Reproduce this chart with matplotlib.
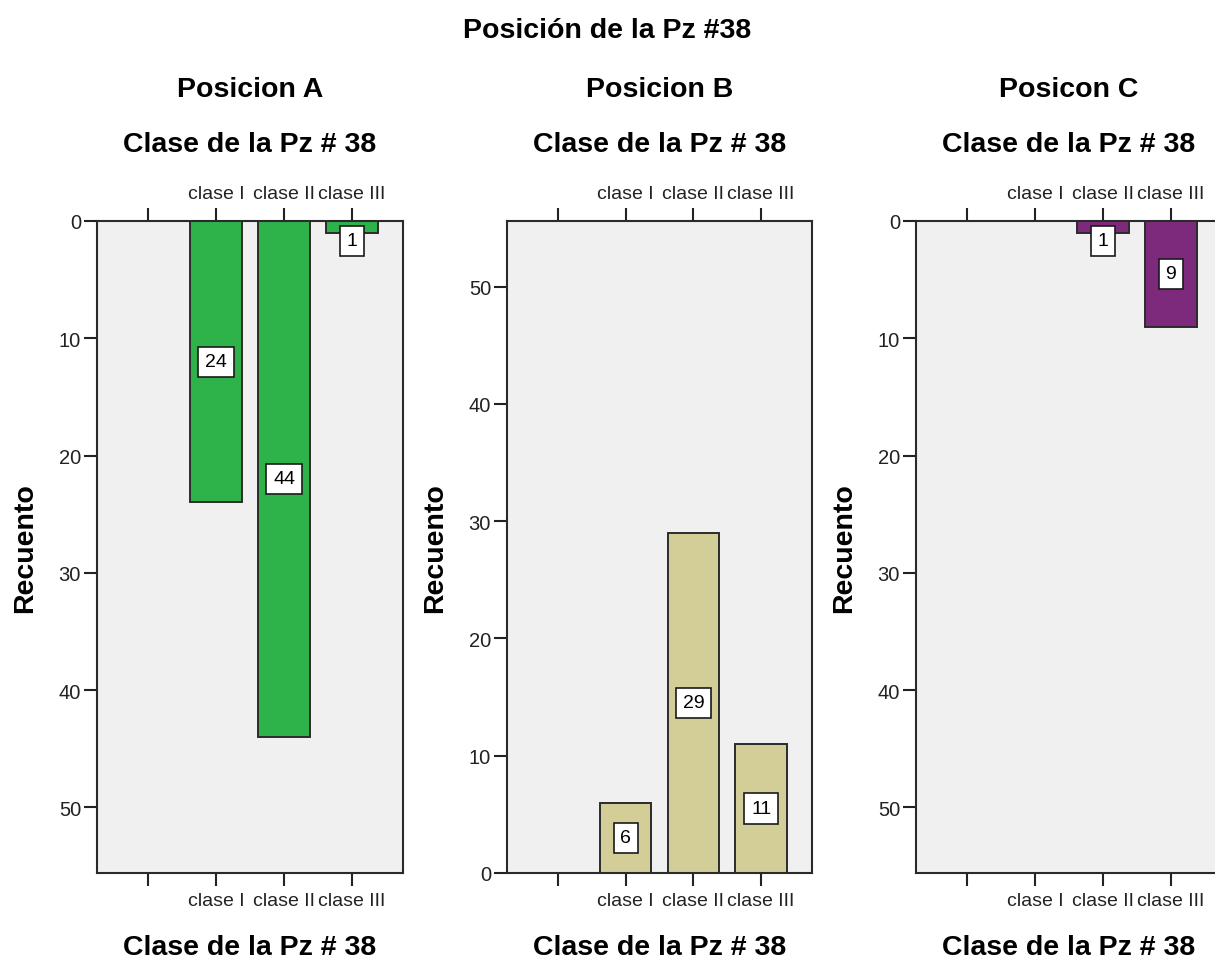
import matplotlib
matplotlib.use("Agg")
import matplotlib.pyplot as plt

plt.rcParams['font.family'] = ['Liberation Sans', 'DejaVu Sans']

categories = ['', 'clase I', 'clase II', 'clase III']
panel_titles = ['Posicion A', 'Posicion B', 'Posicon C']
counts_a = [0, 24, 44, 1]
counts_b = [0, 6, 29, 11]
counts_c = [0, 0, 1, 9]
bar_colors = ['#2eb34a', '#d3ce98', '#7d2a7d']
inverted = [True, False, True]

W, H = 1215, 962
fig = plt.figure(figsize=(W / 100, H / 100), dpi=100)

# axes boxes in pixels: left, right, top, bottom
boxes = [(97, 403, 222, 874), (507, 812, 222, 874), (916, 1222, 222, 874)]

fig.text(0.5, 1 - 31 / H, 'Posición de la Pz #38', ha='center', va='center',
         fontsize=20.5, fontweight='bold')

for (l, r, t, b), counts, title, color, inv in zip(boxes, [counts_a, counts_b, counts_c],
                                                   panel_titles, bar_colors, inverted):
    ax = fig.add_axes([l / W, 1 - b / H, (r - l) / W, (b - t) / H])
    ax.set_facecolor('#f0f0f0')
    x = list(range(len(categories)))
    for xi, v in zip(x, counts):
        if v == 0:
            continue
        ax.bar(xi, v, width=0.76, color=color, edgecolor='#2b2b2b', linewidth=1.4, zorder=2)
        ax.text(xi, max(v / 2, 1.7), str(v), ha='center', va='center', fontsize=14, zorder=3,
                bbox=dict(boxstyle='square,pad=0.34', fc='white', ec='#1a1a1a', lw=1.2))
    ax.set_xlim(-0.75, 3.75)
    if inv:
        ax.set_ylim(55.6, 0)
    else:
        ax.set_ylim(0, 55.6)
    ax.set_xticks(x)
    ax.set_xticklabels(categories)
    ax.set_yticks([0, 10, 20, 30, 40, 50])
    ax.tick_params(axis='x', top=True, labeltop=True, bottom=True, labelbottom=True,
                   direction='out', length=9.5, width=1.5, labelsize=14, pad=4.5, colors='#222222')
    ax.tick_params(axis='y', direction='out', length=9.5, width=1.5, labelsize=14.5, pad=2,
                   colors='#222222')
    for s in ax.spines.values():
        s.set_color('#2a2a2a')
        s.set_linewidth(1.5)
    ax.set_ylabel('Recuento', fontsize=20.5, fontweight='bold', labelpad=15)
    ax.text(0.5, 1 + (t - 145) / (b - t), 'Clase de la Pz # 38', transform=ax.transAxes,
            ha='center', va='center', fontsize=20.5, fontweight='bold')
    ax.text(0.5, -(948 - b) / (b - t), 'Clase de la Pz # 38', transform=ax.transAxes,
            ha='center', va='center', fontsize=20.5, fontweight='bold')
    ax.text(0.5, 1 + (t - 90) / (b - t), title, transform=ax.transAxes,
            ha='center', va='center', fontsize=20.5, fontweight='bold')

fig.savefig('out.png', dpi=100)
